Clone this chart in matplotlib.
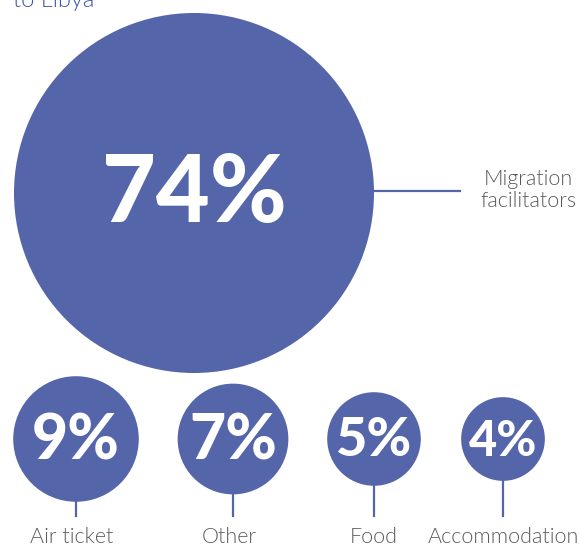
import matplotlib
matplotlib.use("Agg")
import matplotlib.pyplot as plt
from matplotlib.patches import Circle
import numpy as np

# ---- data ----
categories = ["Migration\nfacilitators", "Air ticket", "Other", "Food", "Accommodation"]
shares = [74, 9, 7, 5, 4]
title_text = "to Libya"

# ---- layout / style (pixel coordinates, y downward) ----
W, H = 579, 548
FILL = "#5565AA"
TEXT_GREY = "#5a5a5a"
TITLE_BLUE = "#3C56A8"
big_center = (194, 193)
big_radius = 180
small_x = [76, 233, 374, 503]
small_y = 439
stem_bottom = 516
label_y = 537
pct_sizes = [67, 45, 45, 39, 35]
LABEL_WEIGHT = 300

plt.rcParams['font.family'] = ['Lato', 'DejaVu Sans']

fig = plt.figure(figsize=(W / 100, H / 100), dpi=100)
ax = fig.add_axes([0, 0, 1, 1])
ax.set_xlim(0, W)
ax.set_ylim(H, 0)
ax.set_aspect('equal')
ax.axis('off')

radii = [big_radius * np.sqrt(v / shares[0]) for v in shares]

# big circle
cx, cy = big_center
ax.add_patch(Circle((cx, cy), radii[0], facecolor=FILL, edgecolor='none', zorder=2))
ax.text(cx, cy + 2, f"{shares[0]}%", color='white', fontsize=pct_sizes[0],
        fontweight='black', ha='center', va='center', zorder=3)
ax.plot([cx + radii[0], 460], [191, 191], color=FILL, lw=1.6, zorder=1)
ax.text(528, 190, categories[0], color=TEXT_GREY, fontsize=15.5, fontweight=LABEL_WEIGHT,
        ha='center', va='center', linespacing=1.15)

# small circles
for i in range(1, len(shares)):
    x = small_x[i - 1]
    r = radii[i]
    ax.add_patch(Circle((x, small_y), r, facecolor=FILL, edgecolor='none', zorder=2))
    ax.plot([x, x], [small_y + r - 2, stem_bottom], color=FILL, lw=1.6, zorder=1)
    ax.text(x, small_y + 2, f"{shares[i]}%", color='white', fontsize=pct_sizes[i],
            fontweight='black', ha='center', va='center', zorder=3)
    ax.text(x - 4 if i in (1, 2) else x, label_y, categories[i],
            color=TEXT_GREY, fontsize=15.5, fontweight=LABEL_WEIGHT, ha='center', va='center')

ax.text(13, 7, title_text, color=TITLE_BLUE, fontsize=17, fontweight=LABEL_WEIGHT,
        ha='left', va='baseline')

fig.savefig("out.png", dpi=100)
